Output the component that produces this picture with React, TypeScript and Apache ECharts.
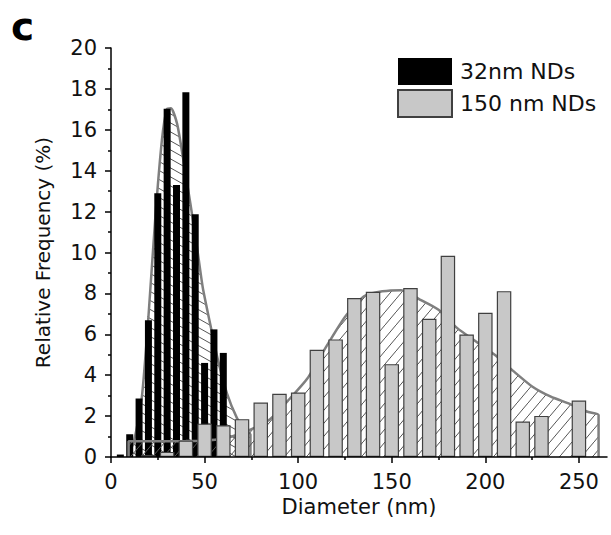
import React, { useEffect, useRef } from "react";
import * as echarts from "echarts";

// 32 nm NDs histogram (bin centre, %)
const smallDiam = [5, 10, 15, 20, 25, 30, 35, 40, 45, 50, 55, 60];
const smallFreq = [0.12, 1.11, 2.86, 6.69, 12.9, 17.03, 13.3, 17.84, 11.87, 4.6, 6.24, 5.09];

// 150 nm NDs histogram (bin centre, %)
const largeDiam = [20, 30, 40, 50, 60, 70, 80, 90, 100, 110, 120, 130, 140, 150, 160, 170, 180, 190, 200, 210, 220, 230, 250];
const largeFreq = [0.1, 0.25, 0.8, 1.63, 1.55, 1.85, 2.66, 3.09, 3.15, 5.24, 5.75, 7.77, 8.08, 4.54, 8.26, 6.76, 9.84, 5.99, 7.05, 8.11, 1.73, 2.01, 2.76];

// Fitted distribution curves
const smallFitX = [10, 10, 12, 16.5, 20, 23.7, 27.2, 29.8, 32, 35.3, 38, 42.4, 45.9, 49, 53, 57, 62, 67.3, 71, 74.5, 74.5];
const smallFitY = [0, 0.3, 0.65, 2.94, 6.86, 11.75, 15.5, 17.0, 17.05, 16.3, 14.9, 12.4, 10.3, 8.3, 6.5, 4.8, 3.1, 1.9, 1.4, 1.1, 0];
const largeFitX = [9.4, 9.4, 20, 30, 40, 50, 60, 68, 76, 85, 95, 105, 115, 125, 135, 145, 155, 165, 175, 185, 195, 205, 215, 225, 235, 245, 255, 260.5, 260.5];
const largeFitY = [0, 0.77, 0.77, 0.77, 0.78, 0.8, 0.9, 1.1, 1.4, 1.85, 2.8, 3.85, 5.4, 6.85, 7.85, 8.1, 8.16, 7.7, 7.2, 6.3, 5.65, 5.0, 4.2, 3.45, 2.95, 2.6, 2.2, 2.05, 0];

// Tick labels
const xMajorTicks = [0, 50, 100, 150, 200, 250];
const xMinorTicks = [25, 75, 125, 175, 225];

const seriesNames = ["32nm NDs", "150 nm NDs"];

const FONT = "DejaVu Sans";

function zip(xs: number[], ys: number[]) {
  return xs.map((x, i) => [x, ys[i]]);
}

function hatch(w: number, h: number, dir: number, color: string) {
  const c = document.createElement("canvas");
  c.width = w;
  c.height = h;
  const ctx = c.getContext("2d")!;
  ctx.strokeStyle = color;
  ctx.lineWidth = 1;
  for (const k of [-1, 0, 1]) {
    ctx.beginPath();
    if (dir === 1) {
      ctx.moveTo(0, k * h);
      ctx.lineTo(w, (k + 1) * h);
    } else {
      ctx.moveTo(0, (k + 1) * h);
      ctx.lineTo(w, k * h);
    }
    ctx.stroke();
  }
  return { image: c, repeat: "repeat", imageWidth: w, imageHeight: h } as any;
}

export default function App() {
  const ref = useRef<HTMLDivElement>(null);
  useEffect(() => {
    if (!ref.current) return;
    const chart = echarts.init(ref.current, null, { renderer: "svg" });
    const tickStyle = { color: "#000", width: 1.5 };
    const labelStyle = { fontSize: 21, color: "#111", fontFamily: FONT };
    chart.setOption({
      animation: false,
      backgroundColor: "#fff",
      title: {
        text: "c",
        left: 11,
        top: 7,
        padding: 0,
        textStyle: { fontSize: 39, fontWeight: "bold", color: "#000", fontFamily: FONT },
      },
      legend: {
        data: seriesNames,
        orient: "vertical",
        left: 397,
        top: 58,
        padding: 0,
        itemWidth: 54,
        itemHeight: 27,
        itemGap: 4,
        icon: "rect",
        selectedMode: false,
        textStyle: { fontSize: 22, color: "#111", fontFamily: FONT, padding: [0, 0, 0, 3] },
      },
      grid: { left: 111, top: 48, width: 496, height: 409, containLabel: false, outerBoundsMode: "none" },
      xAxis: [
        {
          type: "value",
          position: "bottom",
          min: 0,
          max: 265,
          interval: 50,
          name: "Diameter (nm)",
          nameLocation: "middle",
          nameGap: 35,
          nameTextStyle: { fontSize: 21, color: "#111", fontFamily: FONT },
          axisLine: { show: true, onZero: false, lineStyle: tickStyle },
          axisTick: { show: true, length: 6, lineStyle: tickStyle, customValues: xMajorTicks },
          axisLabel: { ...labelStyle, margin: 14, customValues: xMajorTicks },
          splitLine: { show: false },
          z: 10,
        },
        {
          type: "value",
          position: "bottom",
          min: 0,
          max: 265,
          interval: 25,
          axisLine: { show: false },
          axisTick: { show: true, length: 3, lineStyle: tickStyle, customValues: xMinorTicks },
          axisLabel: { show: false },
          splitLine: { show: false },
          z: 10,
        },
      ],
      yAxis: {
        type: "value",
        min: 0,
        max: 20,
        interval: 2,
        name: "Relative Frequency (%)",
        nameLocation: "middle",
        nameGap: 58,
        nameTextStyle: { fontSize: 20, color: "#111", fontFamily: FONT },
        axisLine: { show: true, lineStyle: tickStyle },
        axisTick: { show: true, length: 6, lineStyle: tickStyle },
        minorTick: { show: true, splitNumber: 2, length: 3, lineStyle: tickStyle },
        axisLabel: { ...labelStyle, margin: 14 },
        splitLine: { show: false },
        z: 10,
      },
      series: [
        {
          type: "line",
          name: "fit32",
          xAxisIndex: 0,
          z: 1,
          data: zip(smallFitX, smallFitY),
          smooth: 0.2,
          symbol: "none",
          lineStyle: { color: "#7f7f7f", width: 2.5 },
          areaStyle: { color: hatch(16, 9, 1, "#555"), opacity: 1 },
        },
        {
          type: "bar",
          name: seriesNames[0],
          xAxisIndex: 0,
          z: 2,
          data: zip(smallDiam, smallFreq),
          barWidth: 7,
          itemStyle: { color: "#000" },
        },
        {
          type: "line",
          name: "fit150",
          xAxisIndex: 1,
          z: 3,
          data: zip(largeFitX, largeFitY),
          smooth: 0.2,
          symbol: "none",
          lineStyle: { color: "#7f7f7f", width: 2.5 },
          areaStyle: { color: hatch(11, 13, -1, "#555"), opacity: 1 },
        },
        {
          type: "bar",
          name: seriesNames[1],
          xAxisIndex: 1,
          z: 4,
          data: zip(largeDiam, largeFreq),
          barWidth: 14.5,
          itemStyle: { color: "#c8c8c8", borderColor: "#404040", borderWidth: 1.2 },
        },
      ],
    });
    return () => chart.dispose();
  }, []);
  return <div ref={ref} style={{ position: "absolute", left: 0, top: 0, width: 611, height: 535 }} />;
}
